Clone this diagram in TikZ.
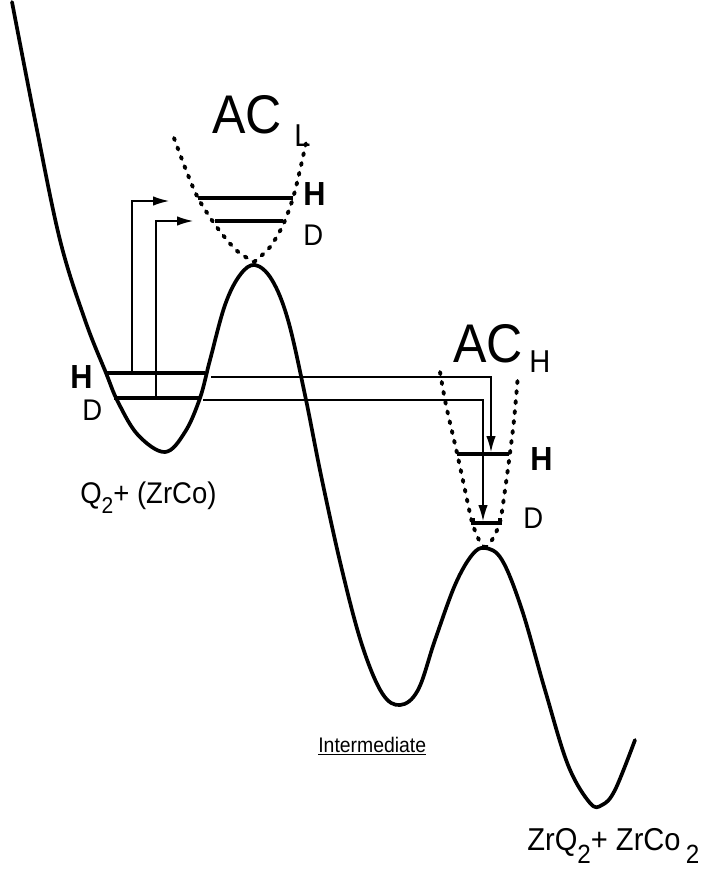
\documentclass[tikz,border=0pt]{standalone}
\usepackage{fontspec}
\setmainfont{Liberation Sans}[FakeStretch=0.92]
\usetikzlibrary{positioning, arrows.meta, calc}
\tikzset{
  pes/.style={line width=2.1pt, line join=round, line cap=round},
  acwell/.style={line width=2.2pt, dash pattern=on 1.3pt off 4.4pt, line cap=round},
  level/.style={line width=2.2pt},
  route/.style={line width=0.75pt, -{Latex[length=3.2mm,width=1.9mm]}},
  lvlabel/.style={inner sep=0pt, anchor=base west, font=\fontsize{17}{19}\selectfont},
  hlabel/.style={lvlabel, font=\fontsize{19}{21}\selectfont\bfseries},
  aclabel/.style={inner sep=0pt, anchor=base west, font=\fontsize{31}{33}\selectfont},
  statelabel/.style={inner sep=0pt, anchor=base west, font=\fontsize{17}{19}\selectfont}
}
\newcommand{\lowsub}[2][-0.55ex]{\raisebox{#1}{#2}}
\begin{document}
\begin{tikzpicture}[x=0.02cm, y=-0.02cm]
  \useasboundingbox (0,0) rectangle (700,872);

  % potential energy curve
  \draw[pes] plot[smooth, tension=0.6] coordinates {
    (12,2) (35,120) (60,240) (85,320) (106,373) (118,402) (138,435) (165,452)
    (185,432) (200,398) (210,360) (225,305) (240,275) (255,265)
    (272,280) (288,320) (305,395) (322,480) (342,570) (362,645) (382,693) (400,705)
    (418,690) (435,640) (455,585) (472,555) (485,548)
    (502,560) (522,610) (545,690) (568,765) (590,803) (602,805)
    (615,790) (635,740)};

  % activated complexes
  \draw[acwell] plot[smooth] coordinates {(174,138) (186,170) (198,198) (216,226) (236,250) (254,262)};
  \draw[acwell] plot[smooth] coordinates {(254,262) (270,247) (283,225) (293,198) (300,170) (306,143)};
  \draw[acwell] plot[smooth] coordinates {(440,372) (446,405) (457,453) (465,490) (472,522) (479,540) (485,548)};
  \draw[acwell] plot[smooth] coordinates {(485,548) (492,540) (500,522) (505,490) (510,453) (514,420) (518,375)};

  % levels
  \coordinate (hQ1) at (106,373); \coordinate (hQ2) at (205,373);
  \coordinate (dQ1) at (114,398); \coordinate (dQ2) at (200,398);
  \coordinate (hL1) at (198,198); \coordinate (hL2) at (293,198);
  \coordinate (dL1) at (215,221); \coordinate (dL2) at (283,221);
  \coordinate (hH1) at (457,454); \coordinate (hH2) at (509,454);
  \coordinate (dH1) at (473,523); \coordinate (dH2) at (500,523);
  \draw[level] (hQ1) -- (hQ2);
  \draw[level] (dQ1) -- (dQ2);
  \draw[level] (hL1) -- (hL2);
  \draw[level] (dL1) -- (dL2);
  \draw[level] (hH1) -- (hH2);
  \draw[level] ($(dH1)+(0,-5)$) -- (dH1) -- (dH2) -- ($(dH2)+(0,-5)$);

  % routes
  \coordinate (hUp) at (132,373); \coordinate (hUpEnd) at (169,201);
  \coordinate (dUp) at (156,398); \coordinate (dUpEnd) at (193,221);
  \coordinate (hOver) at (211,377); \coordinate (hOverEnd) at (491,452);
  \coordinate (dOver) at (203,400); \coordinate (dOverEnd) at (483,521);
  \draw[route] (hUp) |- (hUpEnd);
  \draw[route] (dUp) |- (dUpEnd);
  \draw[route] (hOver) -| (hOverEnd);
  \draw[route] (dOver) -| (dOverEnd);

  % labels
  \node[aclabel] (acL) at (212,133) {AC};
  \node[lvlabel, font=\fontsize{18}{18}\selectfont] (acLsub) at (294,146) {L};
  \node[aclabel] (acH) at (453,362) {AC};
  \node[lvlabel, font=\fontsize{18}{18}\selectfont] (acHsub) at (529,372) {H};
  \node[hlabel] (hLlab) at (303,205) {H};
  \node[lvlabel] (dLlab) at (303,245) {D};
  \node[hlabel] (hHlab) at (530,470) {H};
  \node[lvlabel] (dHlab) at (523,528) {D};
  \node[hlabel] (hQlab) at (70,388) {H};
  \node[lvlabel] (dQlab) at (82,420) {D};
  \node[statelabel] (reac) at (80,503) {Q\lowsub[-6pt]{\fontsize{13}{13}\selectfont 2}+ (ZrCo)};
  \node[inner sep=0pt, anchor=base west, font=\fontsize{12}{14}\selectfont] (inter) at (318,752) {\underline{Intermediate}};
  \node[statelabel, font=\fontsize{18}{20}\selectfont] (prod) at (527,850) {ZrQ\lowsub[-7.5pt]{\fontsize{15}{15}\selectfont 2}+ ZrCo\,\lowsub[-7.5pt]{\fontsize{15}{15}\selectfont 2}};
\end{tikzpicture}
\end{document}
